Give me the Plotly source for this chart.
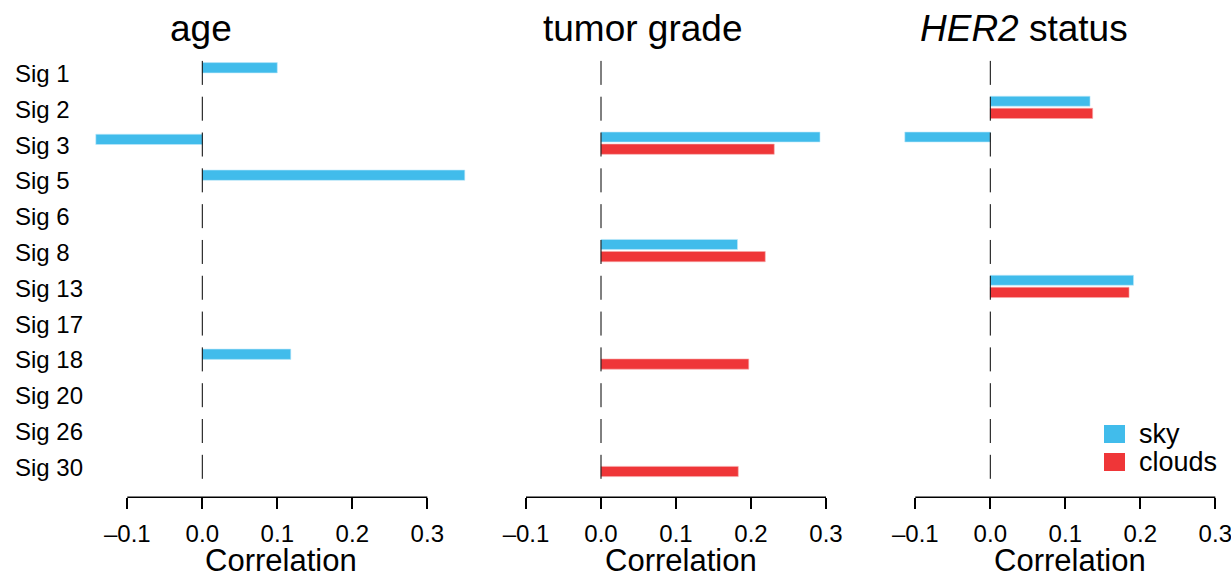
import plotly.graph_objects as go

# ---------------- data ----------------
CATEGORIES = ["Sig 1", "Sig 2", "Sig 3", "Sig 5", "Sig 6", "Sig 8",
              "Sig 13", "Sig 17", "Sig 18", "Sig 20", "Sig 26", "Sig 30"]
PANELS = ["age", "tumor grade", "<i>HER2</i> status"]
SERIES = ["sky", "clouds"]

AGE_SKY = [0.100, None, -0.142, 0.350, None, None, None, None, 0.118, None, None, None]
AGE_CLOUDS = [None] * 12
GRADE_SKY = [None, None, 0.292, None, None, 0.182, None, None, None, None, None, None]
GRADE_CLOUDS = [None, None, 0.231, None, None, 0.219, None, None, 0.197, None, None, 0.183]
HER2_SKY = [None, 0.133, -0.114, None, None, None, 0.191, None, None, None, None, None]
HER2_CLOUDS = [None, 0.1365, None, None, None, None, 0.185, None, None, None, None, None]

TICK_VALUES = [-0.1, 0.0, 0.1, 0.2, 0.3]
TICK_LABELS = ["\u20130.1", "0.0", "0.1", "0.2", "0.3"]
X_LABEL = "Correlation"

VALUES = [(AGE_SKY, AGE_CLOUDS), (GRADE_SKY, GRADE_CLOUDS), (HER2_SKY, HER2_CLOUDS)]

# ---------------- style / layout ----------------
W, H = 1231, 574
COLORS = {"sky": "#41BCEB", "clouds": "#EF3638"}
FONT = "Liberation Sans, Arial, Helvetica, sans-serif"
PX_PER_UNIT = 750.0
ZERO_PX = [202.3, 601.0, 990.3]
XRANGES = [[-0.155, 0.36], [-0.11, 0.31], [-0.12, 0.31]]
ROW_PITCH = 35.81
ROW0_PX = 71.4
AXIS_PX = 497.3
TITLE_X_PX = [201.0, 642.5, 1024.0]
XLABEL_X_PX = [280.8, 680.8, 1070.0]

n = len(CATEGORIES)
ypos = list(range(n))
y_bottom = (n - 1) + (AXIS_PX - (ROW0_PX + (n - 1) * ROW_PITCH)) / ROW_PITCH
y_top = -0.5
top_px = ROW0_PX + y_top * ROW_PITCH
ydom = [1 - AXIS_PX / H, 1 - top_px / H]

def px2paper_x(px):
    return px / W

def px2paper_y(py):
    return 1 - py / H

fig = go.Figure()
shapes = []
annotations = []

# bar offsets (row units) per panel
SKY_OFF = [(-0.246, 0.288), (-0.307, 0.279), (-0.307, 0.279)]
CLD_OFF = (0.03, 0.285)

for p in range(3):
    ax = "" if p == 0 else str(p + 1)
    xref = "x" + ax
    yref = "y" + ax
    r0, r1 = XRANGES[p]
    dom = [px2paper_x(ZERO_PX[p] + r0 * PX_PER_UNIT), px2paper_x(ZERO_PX[p] + r1 * PX_PER_UNIT)]
    sky, clouds = VALUES[p]

    # dashed zero reference: short segments per row
    zx, zy = [], []
    for i in ypos:
        zx += [0, 0, None]
        zy += [i - 0.293, i + 0.377, None]
    fig.add_trace(go.Scatter(x=zx, y=zy, mode="lines", line=dict(color="black", width=1),
                             hoverinfo="skip", showlegend=False, xaxis=xref, yaxis=yref))

    fig.add_trace(go.Bar(y=ypos, x=sky, orientation="h", name="sky",
                         marker=dict(color=COLORS["sky"], line=dict(color="#BFE9FA", width=0.6)),
                         offset=SKY_OFF[p][0], width=SKY_OFF[p][1], base=0,
                         showlegend=False, xaxis=xref, yaxis=yref))
    fig.add_trace(go.Bar(y=ypos, x=clouds, orientation="h", name="clouds",
                         marker=dict(color=COLORS["clouds"], line=dict(color="#F7A9AA", width=0.6)),
                         offset=CLD_OFF[0], width=CLD_OFF[1], base=0,
                         showlegend=False, xaxis=xref, yaxis=yref))

    fig.update_layout(**{
        "xaxis" + ax: dict(domain=dom, range=XRANGES[p], anchor=yref, showgrid=False, zeroline=False,
                           showline=False, tickmode="array", tickvals=TICK_VALUES, ticktext=TICK_LABELS,
                           ticks="outside", ticklen=11, tickwidth=1.5, tickcolor="black",
                           tickfont=dict(size=24, color="black", family=FONT), ticklabelstandoff=4,
                           ticklabeloverflow="allow", automargin=False, fixedrange=True),
        "yaxis" + ax: dict(domain=ydom, range=[y_bottom, y_top], anchor=xref, showgrid=False,
                           zeroline=False, showline=False, showticklabels=False, ticks="",
                           automargin=False, fixedrange=True),
    })

    # axis line spanning the tick range only
    shapes.append(dict(type="line", xref=xref, yref="paper", x0=TICK_VALUES[0], x1=TICK_VALUES[-1],
                       y0=ydom[0], y1=ydom[0], line=dict(color="black", width=1.5)))

    # panel title
    annotations.append(dict(text=PANELS[p], xref="paper", yref="paper", x=px2paper_x(TITLE_X_PX[p]),
                            y=px2paper_y(28), xanchor="center", yanchor="middle", showarrow=False,
                            font=dict(size=37, color="black", family=FONT)))
    # x label
    annotations.append(dict(text=X_LABEL, xref="paper", yref="paper", x=px2paper_x(XLABEL_X_PX[p]),
                            y=px2paper_y(560), xanchor="center", yanchor="middle", showarrow=False,
                            font=dict(size=31, color="black", family=FONT)))

# category labels (left-aligned)
for i, c in enumerate(CATEGORIES):
    annotations.append(dict(text=c, xref="paper", yref="y", x=px2paper_x(12.5), y=i,
                            xanchor="left", yanchor="middle", showarrow=False, yshift=-2,
                            font=dict(size=24, color="black", family=FONT)))

# legend
LEG_Y = [434.0, 462.0]
for k, s in enumerate(SERIES):
    shapes.append(dict(type="rect", xref="paper", yref="paper",
                       x0=px2paper_x(1104), x1=px2paper_x(1125),
                       y0=px2paper_y(LEG_Y[k] - 9), y1=px2paper_y(LEG_Y[k] + 9),
                       fillcolor=COLORS[s], line=dict(width=0)))
    annotations.append(dict(text=s, xref="paper", yref="paper", x=px2paper_x(1136.5),
                            y=px2paper_y(LEG_Y[k]), xanchor="left", yanchor="middle", showarrow=False,
                            font=dict(size=27, color="black", family=FONT)))

fig.update_layout(template="none", width=W, height=H,
                  margin=dict(l=0, r=0, t=0, b=0, pad=0, autoexpand=False),
                  paper_bgcolor="white", plot_bgcolor="white", barmode="overlay",
                  showlegend=False, shapes=shapes, annotations=annotations,
                  font=dict(family=FONT, color="black"))

fig.write_html("out.html", config={"displayModeBar": False},
               post_script="document.body.style.margin='0px';document.body.style.overflow='hidden';")
